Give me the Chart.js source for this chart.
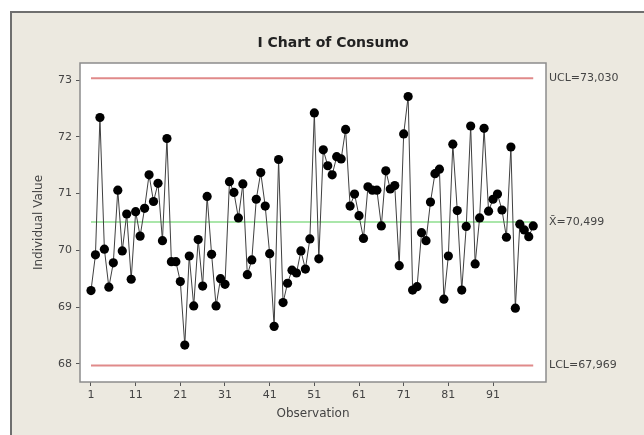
<!DOCTYPE html>
<html>
<head>
<meta charset="utf-8">
<script src="https://cdn.jsdelivr.net/npm/chart.js@4.4.1/dist/chart.umd.min.js"></script>
<style>
html, body { margin: 0; padding: 0; background: #fff; }
#wrap { width: 644px; height: 435px; position: relative; }
</style>
</head>
<body>
<div id="wrap"><canvas id="myChart"></canvas></div>
<script>
// individual values, observation 1..100
const consumo = [
    69.29, 69.92, 72.34, 70.02, 69.35, 69.78, 71.06, 69.99, 70.64, 69.49,
    70.68, 70.25, 70.74, 71.33, 70.86, 71.18, 70.17, 71.97, 69.80, 69.80,
    69.45, 68.33, 69.90, 69.02, 70.19, 69.37, 70.95, 69.93, 69.02, 69.50,
    69.40, 71.21, 71.02, 70.57, 71.17, 69.57, 69.83, 70.90, 71.37, 70.78,
    69.94, 68.66, 71.60, 69.08, 69.42, 69.65, 69.60, 69.99, 69.67, 70.20,
    72.42, 69.85, 71.77, 71.49, 71.33, 71.65, 71.61, 72.13, 70.78, 70.99,
    70.61, 70.21, 71.12, 71.06, 71.06, 70.43, 71.40, 71.08, 71.14, 69.73,
    72.05, 72.71, 69.30, 69.36, 70.31, 70.17, 70.85, 71.35, 71.43, 69.14,
    69.90, 71.87, 70.70, 69.30, 70.42, 72.19, 69.76, 70.57, 72.15, 70.69,
    70.90, 70.99, 70.71, 70.23, 71.82, 68.98, 70.46, 70.36, 70.24, 70.43
];

const ucl = 73.030;
const centerLine = 70.499;
const lcl = 67.969;
const limitLabels = ['UCL=73,030', 'X\u0304=70,499', 'LCL=67,969'];

const xTicks = [1, 11, 21, 31, 41, 51, 61, 71, 81, 91];
const yTicks = [68, 69, 70, 71, 72, 73];

const firstObs = 1;
const lastObs = consumo.length;

const points = consumo.map((v, i) => ({ x: i + 1, y: v }));

const fontName = '"DejaVu Sans", sans-serif';
const textColor = '#444';

const minitabLook = {
    id: 'minitabLook',
    beforeDraw(chart) {
        const ctx = chart.ctx;
        const a = chart.chartArea;
        ctx.save();
        ctx.fillStyle = '#ffffff';
        ctx.fillRect(0, 0, chart.width, chart.height);
        ctx.fillStyle = '#ece9e0';
        ctx.fillRect(11, 12, chart.width - 11, chart.height - 12);
        ctx.strokeStyle = '#6f6f6f';
        ctx.lineWidth = 2;
        ctx.beginPath();
        ctx.moveTo(11, chart.height);
        ctx.lineTo(11, 12);
        ctx.lineTo(chart.width, 12);
        ctx.stroke();
        ctx.fillStyle = '#ffffff';
        ctx.fillRect(a.left, a.top, a.right - a.left, a.bottom - a.top);
        ctx.restore();
    },
    afterDraw(chart) {
        const ctx = chart.ctx;
        const a = chart.chartArea;
        const y = chart.scales.y;
        ctx.save();
        ctx.strokeStyle = '#8c8c8c';
        ctx.lineWidth = 1.5;
        ctx.strokeRect(a.left, a.top, a.right - a.left, a.bottom - a.top);

        ctx.fillStyle = '#222';
        ctx.font = 'bold 14px ' + fontName;
        ctx.textAlign = 'center';
        ctx.textBaseline = 'middle';
        ctx.fillText('I Chart of Consumo', 333, 43);

        ctx.fillStyle = textColor;
        ctx.font = '12px ' + fontName;
        ctx.fillText('Observation', (a.left + a.right) / 2, 414);

        ctx.save();
        ctx.translate(39, (a.top + a.bottom) / 2);
        ctx.rotate(-Math.PI / 2);
        ctx.fillText('Individual Value', 0, 0);
        ctx.restore();

        ctx.font = '11px ' + fontName;
        ctx.textAlign = 'left';
        const vals = [ucl, centerLine, lcl];
        vals.forEach((v, i) => {
            ctx.fillText(limitLabels[i], a.right + 3, y.getPixelForValue(v));
        });
        ctx.restore();
    }
};

new Chart(document.getElementById('myChart'), {
    type: 'scatter',
    data: {
        datasets: [
            {
                label: 'Consumo',
                data: points,
                showLine: true,
                borderColor: '#404040',
                borderWidth: 1,
                pointRadius: 4.6,
                pointBackgroundColor: '#000',
                pointBorderColor: '#000',
                pointBorderWidth: 0,
                order: 0
            },
            {
                label: 'UCL',
                data: [{ x: firstObs, y: ucl }, { x: lastObs, y: ucl }],
                showLine: true,
                borderColor: '#e08a8a',
                borderWidth: 2,
                pointRadius: 0,
                order: 1
            },
            {
                label: 'CL',
                data: [{ x: firstObs, y: centerLine }, { x: lastObs, y: centerLine }],
                showLine: true,
                borderColor: '#8ede8e',
                borderWidth: 1.5,
                pointRadius: 0,
                order: 1
            },
            {
                label: 'LCL',
                data: [{ x: firstObs, y: lcl }, { x: lastObs, y: lcl }],
                showLine: true,
                borderColor: '#e08a8a',
                borderWidth: 2,
                pointRadius: 0,
                order: 1
            }
        ]
    },
    options: {
        responsive: true,
        maintainAspectRatio: false,
        animation: false,
        devicePixelRatio: 1,
        layout: { padding: { left: 0, right: 98, top: 63, bottom: 0 } },
        plugins: {
            legend: { display: false },
            title: { display: false },
            tooltip: { enabled: false }
        },
        scales: {
            x: {
                type: 'linear',
                min: -1.46,
                max: 102.86,
                afterFit: s => { s.height = 53; },
                afterBuildTicks: s => { s.ticks = xTicks.map(v => ({ value: v })); },
                grid: { drawOnChartArea: false, drawTicks: true, tickLength: 4, color: '#555' },
                border: { display: false },
                ticks: { color: textColor, font: { family: fontName, size: 11 }, padding: 3, maxRotation: 0 }
            },
            y: {
                min: 67.68,
                max: 73.30,
                afterFit: s => { s.width = 80; },
                afterBuildTicks: s => { s.ticks = yTicks.map(v => ({ value: v })); },
                grid: { drawOnChartArea: false, drawTicks: true, tickLength: 4, color: '#555' },
                border: { display: false },
                ticks: { color: textColor, font: { family: fontName, size: 11 }, padding: 4 }
            }
        }
    },
    plugins: [minitabLook]
});
</script>
</body>
</html>
